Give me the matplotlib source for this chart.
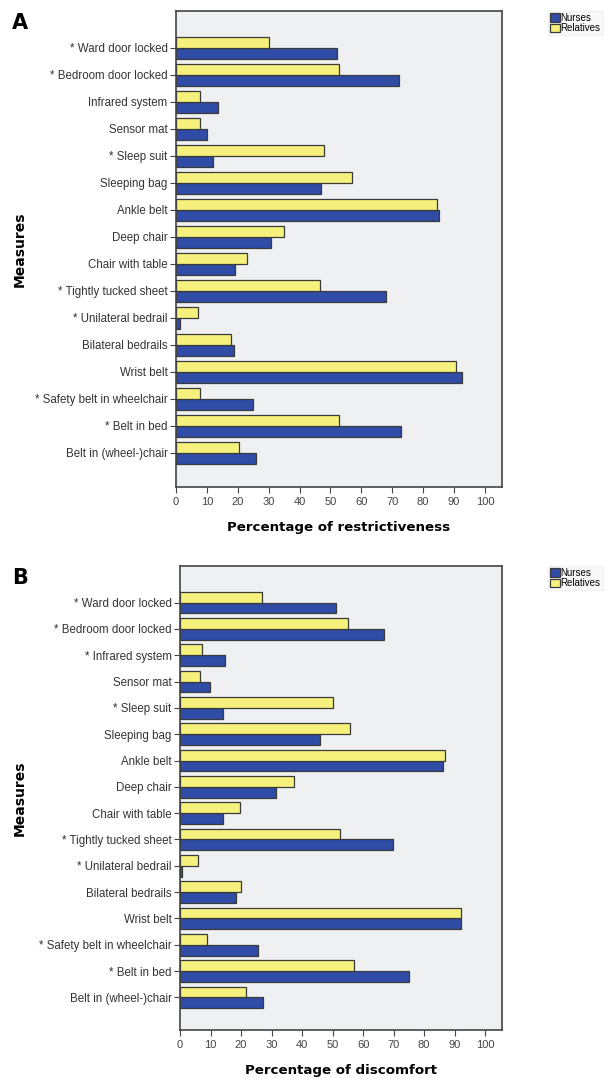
import numpy as np
import matplotlib
matplotlib.use('Agg')
from matplotlib import pyplot as plt
from matplotlib.transforms import blended_transform_factory

measures = ['* Ward door locked', '* Bedroom door locked', 'Infrared system', 'Sensor mat',
            '* Sleep suit', 'Sleeping bag', 'Ankle belt', 'Deep chair', 'Chair with table',
            '* Tightly tucked sheet', '* Unilateral bedrail', 'Bilateral bedrails', 'Wrist belt',
            '* Safety belt in wheelchair', '* Belt in bed', 'Belt in (wheel-)chair']
measures_b = list(measures)
measures_b[2] = '* Infrared system'

# panel A: restrictiveness (%)
nurses_a = [52.0, 72.3, 13.7, 9.9, 11.9, 46.8, 85.2, 30.7, 19.1, 68.0, 1.4, 18.8, 92.6, 24.8, 72.7, 25.8]
relatives_a = [30.2, 52.7, 7.8, 7.8, 47.9, 57.1, 84.6, 35.0, 23.1, 46.6, 7.0, 17.7, 90.5, 7.8, 52.8, 20.3]

# panel B: discomfort (%)
nurses_b = [51.2, 67.0, 14.9, 9.8, 14.1, 45.8, 86.2, 31.6, 14.1, 69.8, 0.7, 18.2, 92.1, 25.5, 74.9, 27.2]
relatives_b = [27.0, 54.9, 7.1, 6.5, 50.0, 55.7, 86.7, 37.3, 19.6, 52.5, 5.8, 20.0, 92.0, 8.9, 57.1, 21.7]

blue = '#2f4ca6'
yellow = '#f6f07c'
bg = '#eef0f2'
edge = '#3a3a3a'
plt.rcParams['font.family'] = ['Liberation Sans', 'DejaVu Sans']

fig = plt.figure(figsize=(6.16, 10.79), dpi=100)


def draw(ax, labels, nurses, relatives, xlabel, letter, ylim):
    pos = np.arange(len(labels))
    h = 0.41
    ax.set_facecolor(bg)
    ax.barh(pos + h / 2, nurses, height=h, color=blue, edgecolor=edge, linewidth=0.9, label='Nurses')
    ax.barh(pos - h / 2, relatives, height=h, color=yellow, edgecolor=edge, linewidth=0.9, label='Relatives')
    ax.set_xlim(0, 105.4)
    ax.set_ylim(*ylim)
    ax.set_yticks(pos)
    ax.set_yticklabels(labels, fontsize=8.3, color='#333333')
    ax.set_xticks(np.arange(0, 101, 10))
    ax.tick_params(axis='x', labelsize=8, labelcolor='#444444', length=4, color='#444444')
    ax.tick_params(axis='y', length=4, color='#444444', pad=2)
    for s in ax.spines.values():
        s.set_color('#444444')
        s.set_linewidth(1.2)
    ax.set_xlabel(xlabel, fontsize=9.6, fontweight='bold', family='DejaVu Sans', labelpad=10)

    # x in figure coords, y in axes coords
    tr = blended_transform_factory(fig.transFigure, ax.transAxes)
    ax.set_ylabel('Measures', fontsize=10, fontweight='bold', family='DejaVu Sans')
    ax.yaxis.set_label_coords(20 / 616, 0.5, transform=tr)
    ax.yaxis.label.set_va('center')
    ax.text(12 / 616, 0.995, letter, transform=tr,
            fontsize=15, fontweight='bold', family='DejaVu Sans', va='top', ha='left')
    leg = ax.legend(loc='upper left', bbox_to_anchor=(548 / 616, 1.0), bbox_transform=tr,
                    fontsize=7, frameon=True, handlelength=1.0, handleheight=1.0, handletextpad=0.1,
                    labelspacing=0.05, borderpad=0.2, fancybox=False, borderaxespad=0)
    leg.get_frame().set_facecolor('#f7f7f7')
    leg.get_frame().set_edgecolor('#f0f0f0')


ax1 = fig.add_axes([0.2857, 0.5487, 0.5287, 0.4411])
draw(ax1, measures, nurses_a, relatives_a, 'Percentage of restrictiveness', 'A', (16.26, -1.37))

ax2 = fig.add_axes([0.2922, 0.0454, 0.5222, 0.4300])
draw(ax2, measures_b, nurses_b, relatives_b, 'Percentage of discomfort', 'B', (16.24, -1.39))

fig.savefig('out.png')
